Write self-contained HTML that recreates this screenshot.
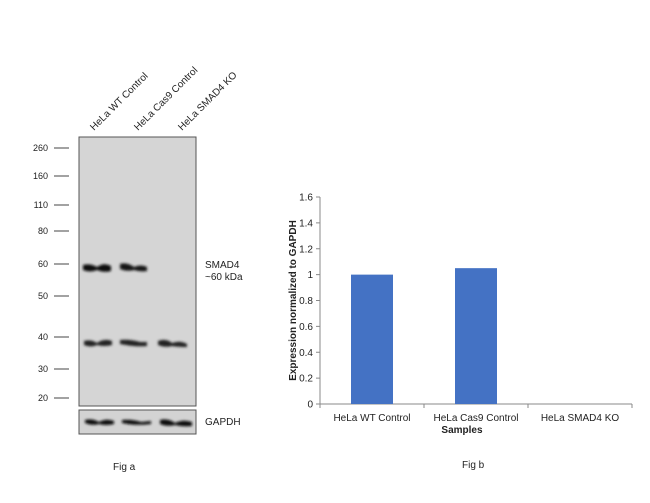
<!DOCTYPE html>
<html><head><meta charset="utf-8"><style>
body{margin:0;background:#fff;font-family:"Liberation Sans",Arial,sans-serif}
svg text{font-family:"Liberation Sans",Arial,sans-serif}
</style></head><body>
<svg width="650" height="498" viewBox="0 0 650 498">
<g>
  <defs><filter id="bl" x="-20%" y="-100%" width="140%" height="300%"><feGaussianBlur stdDeviation="1.2"/></filter></defs>
  <rect x="79" y="137" width="117" height="269" fill="#d5d5d5" stroke="#555" stroke-width="1"/>
  <rect x="79" y="410" width="117" height="24" fill="#d3d3d3" stroke="#555" stroke-width="1"/>
  <g id="markers"></g>
  <g filter="url(#bl)">
    <path d="M83 265 Q90 263 97 267 Q104 262 111 266 L111 271 Q104 273 97 270 Q90 273 83 270Z" fill="#111"/>
    <path d="M120 264 Q127 262 134 267 Q141 264 147 267 L147 271 Q140 272 134 270 Q127 272 120 269Z" fill="#151515"/>
    <path d="M84 341 Q91 339 97 343 Q104 338 112 341 L112 345 Q104 347 97 345 Q91 348 84 345Z" fill="#222"/>
    <path d="M120 340 Q130 339 140 342 L147 342 L147 346 Q135 347 120 344Z" fill="#222"/>
    <path d="M158 341 Q166 338 172 343 Q180 340 187 344 L187 347 Q178 347 172 346 Q165 348 158 345Z" fill="#222"/>
    <path d="M85 420 Q92 418 99 422 Q106 418 114 421 L114 424 Q106 426 99 424 Q92 426 85 423Z" fill="#111"/>
    <path d="M122 420 Q132 419 141 422 L151 421 L151 424 Q135 426 122 423Z" fill="#111"/>
    <path d="M160 420 Q168 418 175 423 Q183 419 192 422 L192 426 Q183 427 175 425 Q167 427 160 424Z" fill="#111"/>
  </g>
  <text transform="translate(94,131) rotate(-45)" font-size="10" fill="#222">HeLa WT Control</text>
  <text transform="translate(138,131) rotate(-45)" font-size="10" fill="#222">HeLa Cas9 Control</text>
  <text transform="translate(182,131) rotate(-45)" font-size="10" fill="#222">HeLa SMAD4 KO</text>
  <text x="205" y="268" font-size="10" fill="#222">SMAD4</text>
  <text x="205" y="280" font-size="10" fill="#222">~60 kDa</text>
  <text x="205" y="425" font-size="10" fill="#222">GAPDH</text>
  <text x="113" y="470" font-size="10" fill="#222">Fig a</text>
</g>
<g id="chart"></g>
<text x="462" y="468" font-size="10" fill="#222">Fig b</text>
</svg>
<script>
const markerLabels=["260","160","110","80","60","50","40","30","20"];
const markerYs=[148,176,205,231,264,296,337,369,398];
const categories=["HeLa WT Control","HeLa Cas9 Control","HeLa SMAD4 KO"];
const values=[1.0,1.05,0];
const yTicks=[0,0.2,0.4,0.6,0.8,1,1.2,1.4,1.6];
const NS="http://www.w3.org/2000/svg";
function mk(t,a,p){const e=document.createElementNS(NS,t);for(const k in a)e.setAttribute(k,a[k]);p.appendChild(e);return e;}
const mg=document.getElementById('markers');
markerLabels.forEach((l,i)=>{
  const t=mk('text',{x:48,y:markerYs[i]+3,'font-size':9,'text-anchor':'end',fill:'#222'},mg);t.textContent=l;
  
  
  const ln=mk('line',{x1:54,x2:69,y1:markerYs[i],y2:markerYs[i],stroke:'#444','stroke-width':1},mg);
  
  
});
const g=document.getElementById('chart');
const x0=320,x1=632,yB=404,yT=197,yMax=1.6;
const bw=(x1-x0)/categories.length;
const ys=v=>yB-(v/yMax)*(yB-yT);
const xc=i=>x0+bw*(i+0.5);
let a=mk('line',{x1:x0,x2:x0,y1:yT,y2:yB,stroke:'#888'},g);


a=mk('line',{x1:x0,x2:x1,y1:yB,y2:yB,stroke:'#888'},g);


yTicks.forEach(v=>{
  const tk=mk('line',{x1:x0-4,x2:x0,y1:ys(v),y2:ys(v),stroke:'#888'},g);
  
  
  const t=mk('text',{x:x0-7,y:ys(v)+3.5,'font-size':10,'text-anchor':'end',fill:'#222'},g);
  t.textContent=String(v);
  
  
});
for(let i=0;i<=categories.length;i++){
  const tk=mk('line',{x1:x0+bw*i,x2:x0+bw*i,y1:yB,y2:yB+4,stroke:'#888'},g);
  
  
}
categories.forEach((c,i)=>{
  const r=mk('rect',{x:xc(i)-21,y:ys(values[i]),width:42,height:yB-ys(values[i]),fill:'#4472c4'},g);
  
  
  const t=mk('text',{x:xc(i),y:yB+17,'font-size':10,'text-anchor':'middle',fill:'#222'},g);
  t.textContent=c;
  
  
});
let t=mk('text',{x:(x0+x1)/2-14,y:yB+29,'font-size':10,'font-weight':'bold','text-anchor':'middle',fill:'#222'},g);
t.textContent='Samples';


t=mk('text',{transform:'translate(296,'+((yT+yB)/2)+') rotate(-90)','font-size':10,'font-weight':'bold','text-anchor':'middle',fill:'#222'},g);
t.textContent='Expression normalized to GAPDH';


</script>
</body></html>
